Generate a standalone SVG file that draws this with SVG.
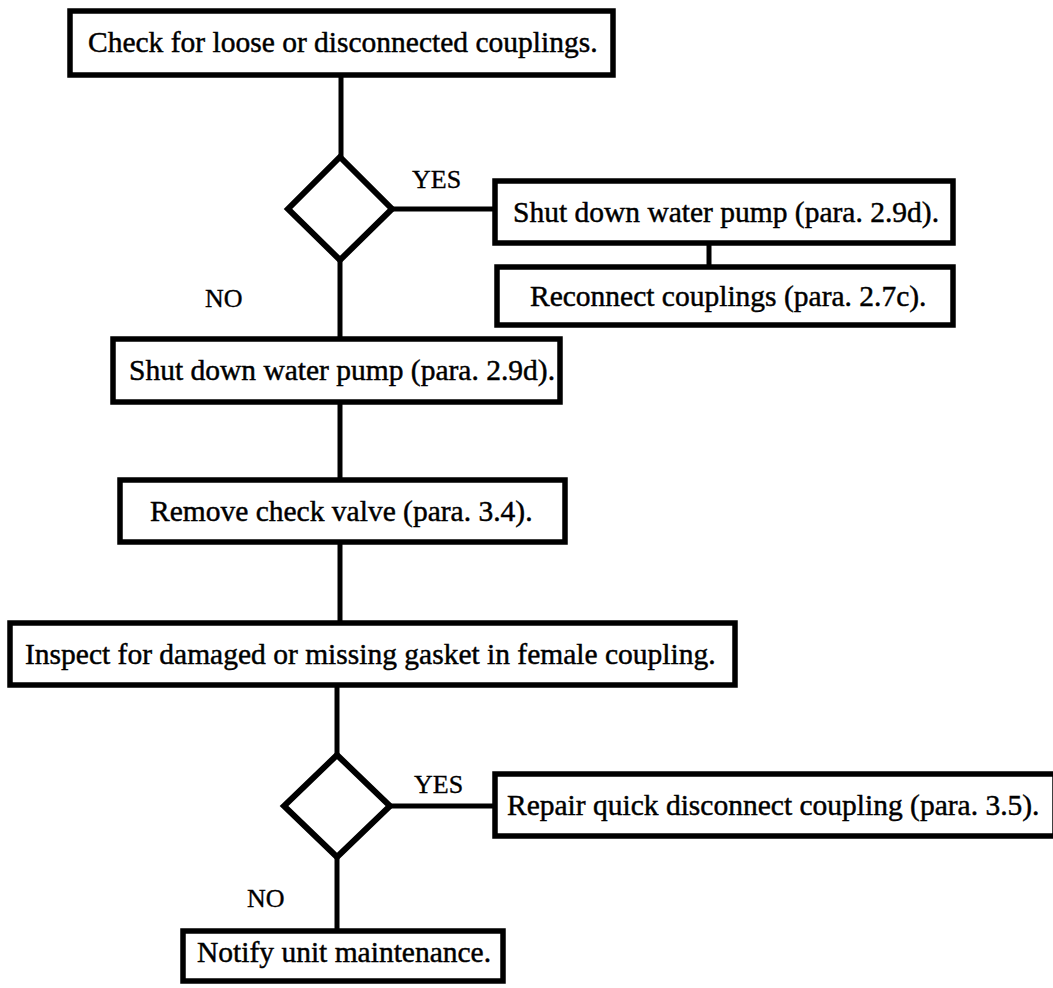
<svg xmlns="http://www.w3.org/2000/svg" width="1053" height="988" viewBox="0 0 1053 988">
<style>
.box{fill:#fff;stroke:#000;stroke-width:5.5}
.dia{fill:#fff;stroke:#000;stroke-width:6;stroke-linejoin:miter}
.ln{fill:none;stroke:#000;stroke-width:5}
.t{font-family:"Liberation Serif","Times New Roman",serif;font-size:29.5px;fill:#000;stroke:#000;stroke-width:0.45}
.lbl{font-family:"Liberation Serif","Times New Roman",serif;font-size:26px;fill:#000;stroke:#000;stroke-width:0.35}
</style>
<rect width="1053" height="988" fill="#fff"/>
<g id="connectors">
<line class="ln" x1="341" y1="76" x2="341" y2="158"/>
<line class="ln" x1="392" y1="209" x2="495" y2="209"/>
<line class="ln" x1="709" y1="243" x2="709" y2="267"/>
<line class="ln" x1="340" y1="259" x2="340" y2="339"/>
<line class="ln" x1="340" y1="402" x2="340" y2="480"/>
<line class="ln" x1="340" y1="542" x2="340" y2="623"/>
<line class="ln" x1="337" y1="685" x2="337" y2="755"/>
<line class="ln" x1="390" y1="806" x2="495" y2="806"/>
<line class="ln" x1="337" y1="857" x2="337" y2="931"/>
<text class="lbl" x="412" y="188">YES</text>
<text class="lbl" x="205" y="307">NO</text>
<text class="lbl" x="414" y="793">YES</text>
<text class="lbl" x="247" y="907">NO</text>
</g>
<g id="n1">
<rect class="box" x="70" y="11" width="543" height="64"/>
<text class="t" x="88" y="52">Check for loose or disconnected couplings.</text>
</g>
<g id="d1">
<polygon class="dia" points="340,157 392,209 340,260 288,209"/>
</g>
<g id="n2">
<rect class="box" x="495" y="181" width="458" height="62"/>
<text class="t" x="513" y="222">Shut down water pump (para. 2.9d).</text>
</g>
<g id="n3">
<rect class="box" x="497" y="267" width="456" height="58"/>
<text class="t" x="530" y="306">Reconnect couplings (para. 2.7c).</text>
</g>
<g id="n4">
<rect class="box" x="113" y="339" width="447" height="63"/>
<text class="t" x="129" y="380">Shut down water pump (para. 2.9d).</text>
</g>
<g id="n5">
<rect class="box" x="120" y="480" width="445" height="62"/>
<text class="t" x="150" y="521">Remove check valve (para. 3.4).</text>
</g>
<g id="n6">
<rect class="box" x="10" y="623" width="725" height="62"/>
<text class="t" x="25" y="664">Inspect for damaged or missing gasket in female coupling.</text>
</g>
<g id="d2">
<polygon class="dia" points="337,755 390,806 337,857 284,806"/>
</g>
<g id="n7">
<rect class="box" x="495" y="774" width="560" height="62"/>
<text class="t" x="507" y="815">Repair quick disconnect coupling (para. 3.5).</text>
</g>
<g id="n8">
<rect class="box" x="183" y="931" width="320" height="50"/>
<text class="t" x="197" y="962">Notify unit maintenance.</text>
</g>
</svg>
